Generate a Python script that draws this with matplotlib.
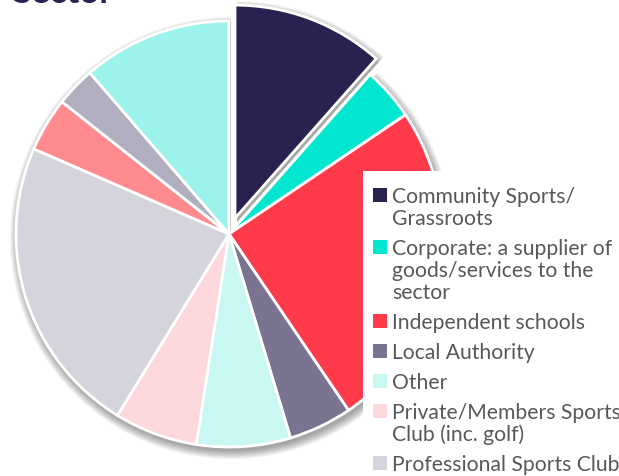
import matplotlib.pyplot as plt
from matplotlib.patches import Wedge, Rectangle

# sector shares (%), clockwise from 12 o'clock
sectores = [
    "Community Sports/\nGrassroots",
    "Corporate: a supplier of\ngoods/services to the\nsector",
    "Independent schools",
    "Local Authority",
    "Other",
    "Private/Members Sports\nClub (inc. golf)",
    "Professional Sports Club",
    "",
    "",
    "",
]
valores = [11.5, 4.0, 24.9, 4.8, 7.1, 6.3, 22.7, 4.1, 3.0, 11.3]
colores = ["#2b2150", "#00e6cf", "#ff3b4b", "#7b7490", "#c9f7f1",
           "#fdd8dc", "#d5d4dc", "#ff8b8f", "#b1aec0", "#9cf3eb"]
separado = [17, 0, 0, 0, 0, 0, 0, 0, 0, 0]

W, H = 619, 477
fig = plt.figure(figsize=(W / 100, H / 100), dpi=100)
ax = fig.add_axes([0, 0, 1, 1])

centro = (229, H - 235)
radio = 213

wedges, _ = ax.pie(valores, colors=colores, startangle=90, counterclock=False,
                   center=centro, radius=radio, explode=separado,
                   wedgeprops=dict(edgecolor="white", linewidth=2))
for w in wedges:
    w.set_zorder(2)

# soft drop shadow under every slice
for w in wedges:
    cx, cy = w.center
    for k in range(10):
        sombra = Wedge((cx + 2, cy - 4), w.r + k * 0.9, w.theta1, w.theta2,
                       facecolor="black", edgecolor="none", alpha=0.04, zorder=1)
        ax.add_patch(sombra)

ax.set_xlim(0, W)
ax.set_ylim(0, H)
ax.axis("off")

# title, mostly above the top edge
fig.text(12 / W, (H - 3) / H, "Sector", fontsize=25, fontweight="bold",
         family="Lato", color="#2b2150", va="baseline", ha="left")

# legend box drawn over the pie
ax.add_patch(Rectangle((363, 0), W - 363, H - 172, facecolor="white",
                       edgecolor="none", zorder=5))
y = 196
for nombre, color in zip(sectores, colores):
    if not nombre:
        continue
    ax.add_patch(Rectangle((373, H - y - 7), 14, 14, facecolor=color,
                           edgecolor="none", zorder=6))
    lineas = nombre.split("\n")
    for i, linea in enumerate(lineas):
        ax.text(392, H - (y + 7 + 22 * i), linea, fontsize=15.2, family="Lato",
                color="#58585a", va="baseline", ha="left", zorder=7)
    y += 22 * len(lineas) + 8

fig.savefig("out.png", dpi=100)
